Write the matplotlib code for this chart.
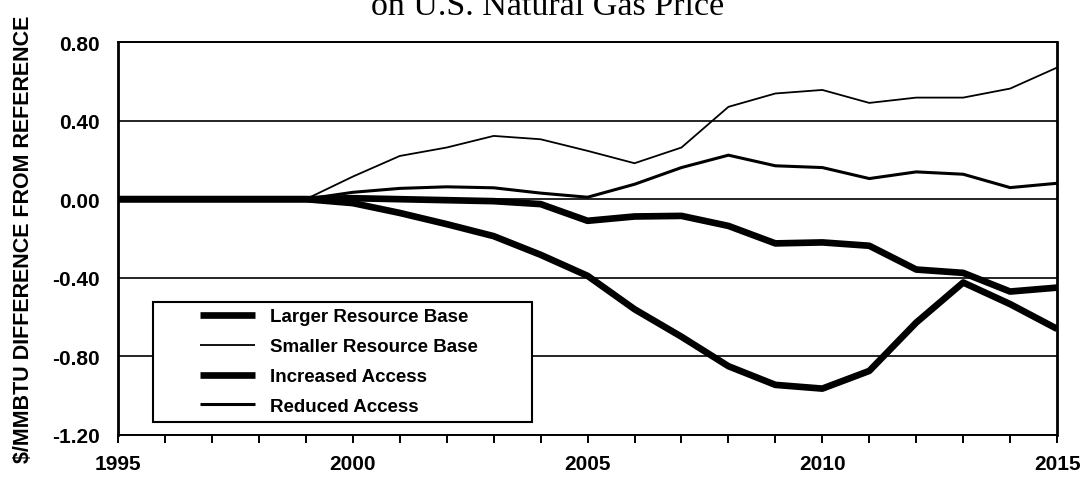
import matplotlib
matplotlib.use("Agg")
import matplotlib.pyplot as plt
from matplotlib.legend_handler import HandlerLine2D
from matplotlib.ticker import MultipleLocator

plt.rcParams['font.family'] = ['Liberation Sans', 'DejaVu Sans']

years = list(range(1995, 2016))
larger_base = [0, 0, 0, 0, 0, -0.02, -0.07, -0.127, -0.188, -0.283, -0.39,
               -0.56, -0.70, -0.85, -0.945, -0.964, -0.874, -0.628, -0.424,
               -0.534, -0.66]
smaller_base = [0, 0, 0, 0, 0, 0.115, 0.22, 0.263, 0.322, 0.305, 0.246,
                0.183, 0.263, 0.47, 0.538, 0.556, 0.49, 0.517, 0.517, 0.563,
                0.67]
increased_access = [0, 0, 0, 0, 0, 0.005, 0.0, -0.005, -0.01, -0.025, -0.11,
                    -0.088, -0.085, -0.136, -0.225, -0.22, -0.237, -0.358,
                    -0.375, -0.47, -0.45]
reduced_access = [0, 0, 0, 0, 0, 0.035, 0.055, 0.063, 0.058, 0.031, 0.01,
                  0.076, 0.161, 0.224, 0.17, 0.161, 0.105, 0.139, 0.127,
                  0.059, 0.081]

series = [
    ("Larger Resource Base", larger_base, 4.8),
    ("Smaller Resource Base", smaller_base, 1.3),
    ("Increased Access", increased_access, 4.8),
    ("Reduced Access", reduced_access, 2.2),
]

yticks = [0.80, 0.40, 0.00, -0.40, -0.80, -1.20]


class PaddedLine(HandlerLine2D):
    """Line handle drawn only on the right part of the handle box."""
    def __init__(self, lead, **kw):
        super().__init__(**kw)
        self.lead = lead

    def create_artists(self, legend, orig_handle, xdescent, ydescent,
                       width, height, fontsize, trans):
        pad = self.lead * fontsize
        return super().create_artists(legend, orig_handle, xdescent - pad,
                                      ydescent, width - pad, height,
                                      fontsize, trans)


fig = plt.figure(figsize=(10.89, 4.81), dpi=100)
ax = fig.add_axes([0.1084, 0.0936, 0.8623, 0.8170])

for y in yticks:
    ax.axhline(y, color='black', lw=1.2, zorder=1)

lines = []
for name, vals, lw in series:
    ln, = ax.plot(years, vals, color='black', lw=lw, label=name,
                  solid_joinstyle='round', solid_capstyle='butt', zorder=3)
    lines.append(ln)

ax.set_xlim(1995, 2015)
ax.set_ylim(-1.20, 0.80)
ax.set_yticks(yticks)
ax.set_yticklabels([f"{v:.2f}" for v in yticks])
ax.xaxis.set_major_locator(MultipleLocator(5))
ax.xaxis.set_minor_locator(MultipleLocator(1))
ax.tick_params(axis='x', which='both', direction='out', length=6,
               width=1.4, pad=8, labelsize=15)
ax.tick_params(axis='y', length=0, pad=13, labelsize=15)
for lbl in ax.get_xticklabels() + ax.get_yticklabels():
    lbl.set_fontweight('bold')

for side in ['left', 'right']:
    ax.spines[side].set_linewidth(2.0)
for side in ['top', 'bottom']:
    ax.spines[side].set_linewidth(1.4)

ax.set_ylabel("$/MMBTU DIFFERENCE FROM REFERENCE", fontsize=15.5,
              fontweight='bold')
ax.yaxis.set_label_coords(-0.0895, 0.5)

leg = ax.legend(handles=lines, loc='lower left',
                bbox_to_anchor=(0.037, 0.034, 0.4036, 0.3), mode='expand',
                borderaxespad=0, prop={'size': 13.5, 'weight': 'bold'},
                frameon=True, fancybox=False, framealpha=1,
                edgecolor='black', handlelength=5.1, handletextpad=0.8,
                labelspacing=0.68, borderpad=0.35,
                handler_map={ln: PaddedLine(2.17) for ln in lines})
leg.get_frame().set_linewidth(1.5)
leg.set_zorder(5)

fig.text(0.503, 1 - 15 / 481, "on U.S. Natural Gas Price", ha='center',
         va='baseline', fontsize=24.5, family=['Liberation Serif'])

fig.savefig("out.png", dpi=100)
